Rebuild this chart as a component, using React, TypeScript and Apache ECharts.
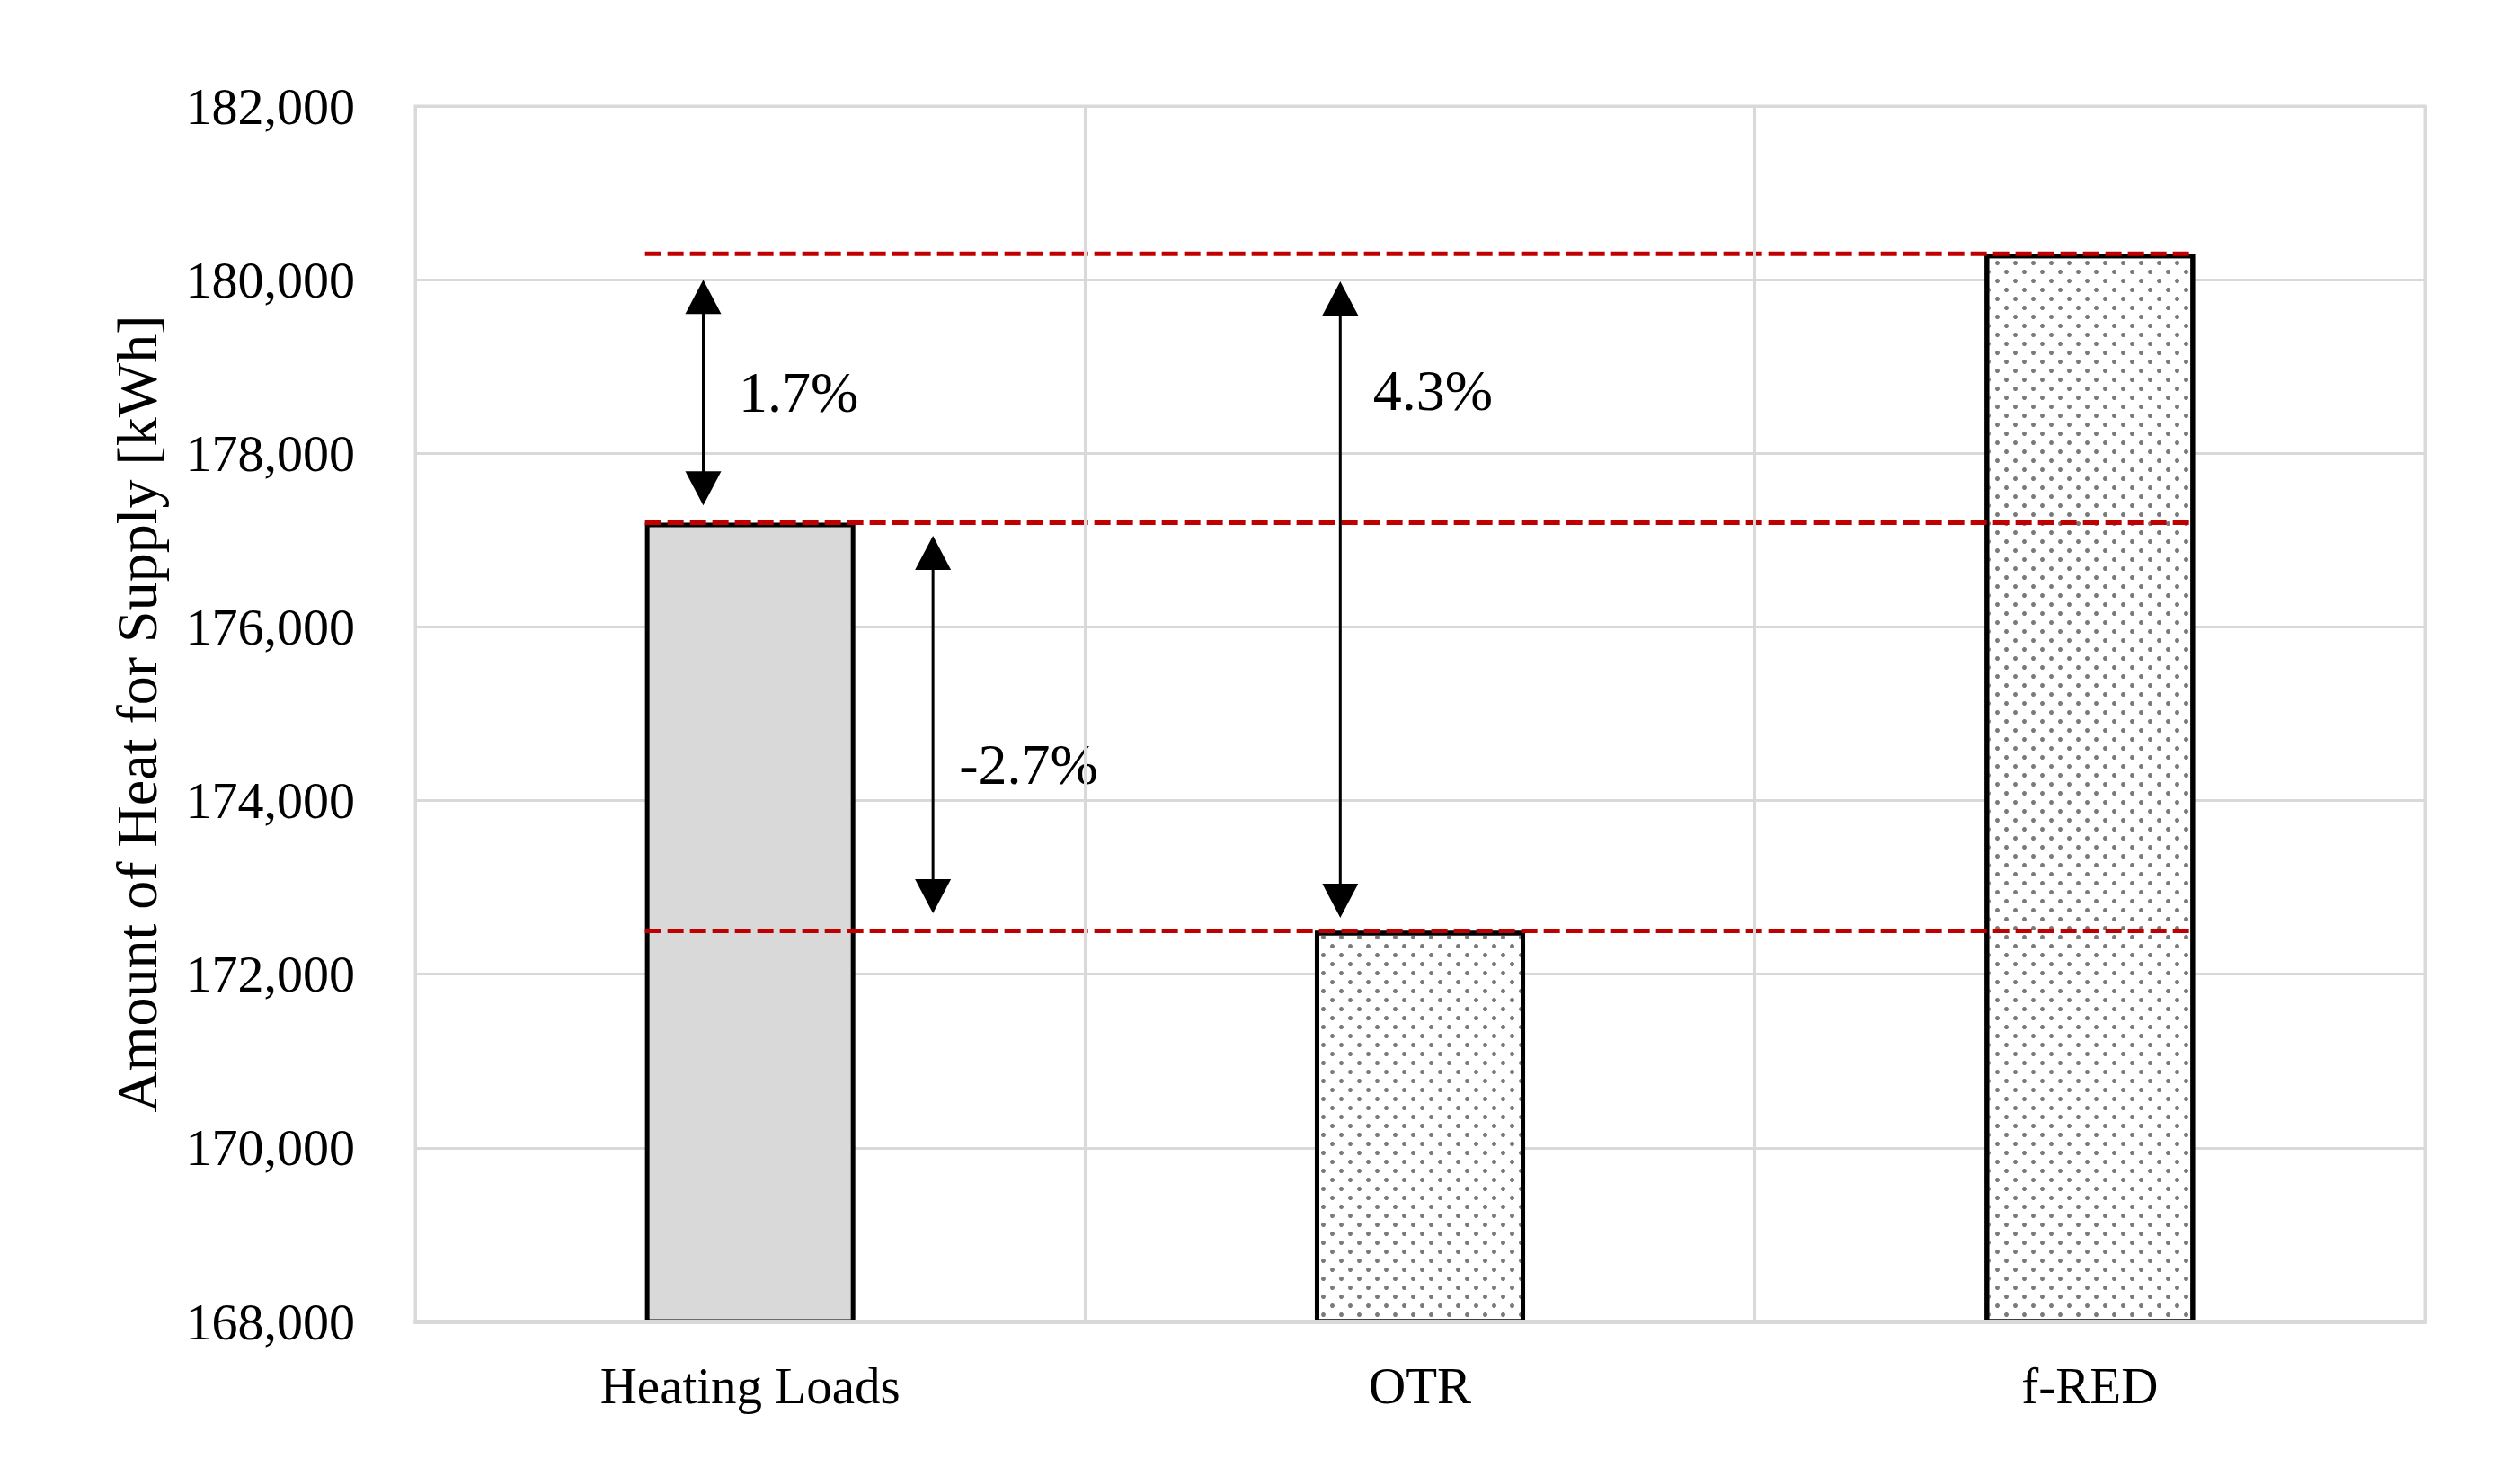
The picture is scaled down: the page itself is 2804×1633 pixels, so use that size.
import React, { useEffect, useRef } from "react";
import * as echarts from "echarts";

const categories = ["Heating Loads", "OTR", "f-RED"];
const supplyValues = [177200, 172500, 180300];
const yMin = 168000;
const yMax = 182000;
const yInterval = 2000;

const refLineValues = [180300, 177200, 172500];
const refLineSpan = [-0.157, 2.157];

const arrowX = [-0.07, 0.273, 0.881];
const arrowTop = [180000, 177050, 179980];
const arrowBottom = [177400, 172700, 172650];

const pctLabels = ["1.7%", "-2.7%", "4.3%"];
const pctLabelX = [-0.017, 0.312, 0.93];
const pctLabelY = [178700, 174420, 178720];

const FONT = "'Liberation Serif', 'Times New Roman', serif";
const GRID_GRAY = "#D9D9D9";

export default function App() {
  const ref = useRef<HTMLDivElement>(null);

  useEffect(() => {
    if (!ref.current) return;
    const chart = echarts.init(ref.current, undefined, { renderer: "svg" });

    const dotDecal = {
      symbol: "circle",
      symbolSize: 1,
      color: "#7a7a7a",
      dashArrayX: [
        [5, 15],
        [0, 10, 5, 5],
      ],
      dashArrayY: [5, 4.7],
      rotation: 0,
    };

    const option: any = {
      animation: false,
      backgroundColor: "#ffffff",
      grid: {
        show: true,
        borderColor: GRID_GRAY,
        borderWidth: 3,
        left: 462,
        right: 106,
        top: 118,
        bottom: 163,
        containLabel: false,
      },
      xAxis: [
        {
          type: "category",
          data: categories,
          boundaryGap: true,
          z: 10,
          axisLine: { show: true, lineStyle: { color: GRID_GRAY, width: 5 } },
          axisTick: { show: false },
          splitLine: { show: true, lineStyle: { color: GRID_GRAY, width: 3 } },
          axisLabel: {
            fontFamily: FONT,
            fontSize: 57,
            color: "#000",
            margin: 43,
          },
        },
        {
          type: "value",
          min: -0.5,
          max: 2.5,
          show: false,
        },
      ],
      yAxis: {
        type: "value",
        min: yMin,
        max: yMax,
        interval: yInterval,
        axisLine: { show: false },
        axisTick: { show: false },
        splitLine: { show: true, lineStyle: { color: GRID_GRAY, width: 3 } },
        axisLabel: {
          fontFamily: FONT,
          fontSize: 58,
          color: "#000",
          margin: 67,
          formatter: (v: number) => v.toLocaleString("en-US"),
        },
        name: "Amount of Heat for Supply [kWh]",
        nameLocation: "middle",
        nameGap: 278,
        nameTextStyle: { fontFamily: FONT, fontSize: 64, color: "#000" },
      },
      series: [
        {
          type: "bar",
          xAxisIndex: 0,
          barWidth: "31.4%",
          data: supplyValues.map((v, i) => ({
            value: v,
            itemStyle:
              i === 0
                ? { color: "#D9D9D9" }
                : { color: "#ffffff", decal: dotDecal },
          })),
          itemStyle: { borderColor: "#000", borderWidth: 5 },
          z: 2,
        },
        ...refLineValues.map((v) => ({
          type: "line",
          xAxisIndex: 1,
          symbol: "none",
          silent: true,
          z: 5,
          data: [
            [refLineSpan[0], v],
            [refLineSpan[1], v],
          ],
          lineStyle: { color: "#C00000", width: 5, type: [18, 7] },
        })),
        {
          type: "custom",
          xAxisIndex: 1,
          silent: true,
          clip: false,
          z: 6,
          encode: { x: 0, y: [1, 2] },
          data: arrowX.map((x, i) => [x, arrowTop[i], arrowBottom[i]]),
          renderItem: (params: any, api: any) => {
            const x = api.value(0);
            const p1 = api.coord([x, api.value(1)]);
            const p2 = api.coord([x, api.value(2)]);
            const hw = 20;
            const hh = 38;
            return {
              type: "group",
              children: [
                {
                  type: "line",
                  shape: { x1: p1[0], y1: p1[1] + hh - 2, x2: p2[0], y2: p2[1] - hh + 2 },
                  style: { stroke: "#000", lineWidth: 3 },
                },
                {
                  type: "polygon",
                  shape: {
                    points: [
                      [p1[0], p1[1]],
                      [p1[0] - hw, p1[1] + hh],
                      [p1[0] + hw, p1[1] + hh],
                    ],
                  },
                  style: { fill: "#000" },
                },
                {
                  type: "polygon",
                  shape: {
                    points: [
                      [p2[0], p2[1]],
                      [p2[0] - hw, p2[1] - hh],
                      [p2[0] + hw, p2[1] - hh],
                    ],
                  },
                  style: { fill: "#000" },
                },
              ],
            };
          },
        },
        {
          type: "custom",
          xAxisIndex: 1,
          silent: true,
          clip: false,
          z: 7,
          encode: { x: 0, y: 1 },
          data: pctLabelX.map((x, i) => [x, pctLabelY[i]]),
          renderItem: (params: any, api: any) => {
            const p = api.coord([api.value(0), api.value(1)]);
            return {
              type: "text",
              x: p[0],
              y: p[1],
              style: {
                text: pctLabels[params.dataIndex],
                fontFamily: FONT,
                fontSize: 64,
                fill: "#000",
                align: "left",
                verticalAlign: "middle",
              },
            };
          },
        },
      ],
    };

    chart.setOption(option);
    return () => chart.dispose();
  }, []);

  return (
    <div
      ref={ref}
      style={{ position: "fixed", left: 0, top: 0, width: 2804, height: 1633 }}
    />
  );
}
